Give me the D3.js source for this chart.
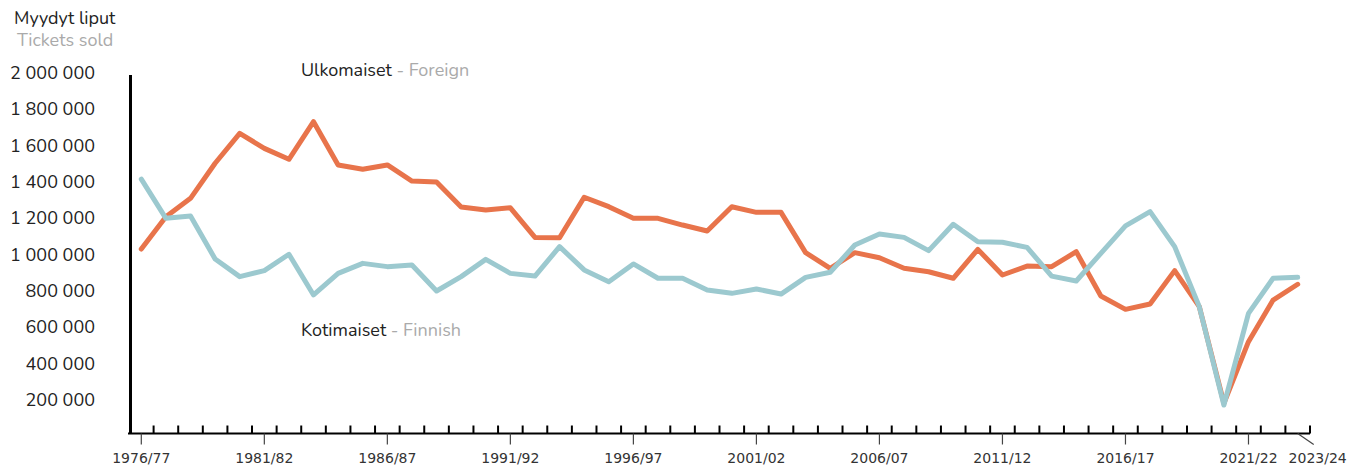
<!DOCTYPE html>
<html><head><meta charset="utf-8">
<script src="https://cdn.jsdelivr.net/npm/d3@7"></script>
<style>
html,body{margin:0;padding:0;background:#fff;}
svg{display:block;}
</style></head>
<body>
<svg id="chart" width="1365" height="466"></svg>
<script>
const seasons = ["1976/77","1977/78","1978/79","1979/80","1980/81","1981/82","1982/83","1983/84","1984/85","1985/86","1986/87","1987/88","1988/89","1989/90","1990/91","1991/92","1992/93","1993/94","1994/95","1995/96","1996/97","1997/98","1998/99","1999/00","2000/01","2001/02","2002/03","2003/04","2004/05","2005/06","2006/07","2007/08","2008/09","2009/10","2010/11","2011/12","2012/13","2013/14","2014/15","2015/16","2016/17","2017/18","2018/19","2019/20","2020/21","2021/22","2022/23","2023/24"];
const foreign = [1031000,1209000,1310000,1503000,1668000,1585000,1525000,1732000,1494000,1470000,1494000,1405000,1400000,1262000,1246000,1258000,1095000,1093000,1316000,1264000,1200000,1200000,1163000,1130000,1264000,1233000,1233000,1011000,925000,1011000,983000,925000,906000,870000,1029000,888000,937000,934000,1016000,772000,699000,728000,912000,714000,182000,521000,750000,837000];
const finnish = [1416000,1200000,1213000,976000,879000,912000,1002000,778000,897000,952000,934000,943000,800000,879000,974000,897000,882000,1044000,916000,851000,949000,870000,870000,805000,787000,811000,783000,875000,903000,1053000,1114000,1095000,1022000,1167000,1071000,1068000,1040000,882000,855000,1007000,1158000,1237000,1044000,714000,172000,677000,870000,875000];
const yTicks = [200000,400000,600000,800000,1000000,1200000,1400000,1600000,1800000,2000000];
const labeledSeasons = ["1976/77","1981/82","1986/87","1991/92","1996/97","2001/02","2006/07","2011/12","2016/17","2021/22"];
const lastSeason = "2023/24";

const svg = d3.select("#chart");
const FONT = "Nunito, Lato, 'Open Sans', sans-serif";
const orange = "#E8744B", blue = "#9CC9CF";

const x = d3.scaleBand().domain(seasons).range([129, 1310]);
const y = d3.scaleLinear().domain([0, 2000000]).range([436.3, 73]);
const cx = s => x(s) + x.bandwidth()/2;

// titles
svg.append("text").attr("x",14).attr("y",24).attr("font-family",FONT).attr("font-size",18).attr("fill","#222").text("Myydyt liput");
svg.append("text").attr("x",17).attr("y",46).attr("font-family",FONT).attr("font-size",18).attr("fill","#aaa").text("Tickets sold");

// y tick labels
const fmt = v => d3.format(",")(v).replace(/,/g," ");
svg.append("g").selectAll("text").data(yTicks).join("text")
  .attr("x",95).attr("y",d=>y(d)+6).attr("text-anchor","end")
  .attr("font-family",FONT).attr("font-size",18).attr("fill","#222")
  .text(fmt);

// y axis line
svg.append("line").attr("x1",130.5).attr("x2",130.5).attr("y1",75).attr("y2",434).attr("stroke","#000").attr("stroke-width",3);

// x axis
const axisY = 433.5;
svg.append("line").attr("x1",128).attr("x2",1310).attr("y1",axisY).attr("y2",axisY).attr("stroke","#000").attr("stroke-width",2);
const bounds = seasons.map(s=>x(s)).concat([x(seasons[seasons.length-1])+x.bandwidth()]).slice(1);
svg.append("g").selectAll("line").data(bounds).join("line")
  .attr("x1",d=>d).attr("x2",d=>d).attr("y1",axisY-8).attr("y2",axisY)
  .attr("stroke","#000").attr("stroke-width",2);
svg.append("g").selectAll("line").data(labeledSeasons).join("line")
  .attr("x1",d=>cx(d)).attr("x2",d=>cx(d)).attr("y1",axisY).attr("y2",axisY+11)
  .attr("stroke","#444").attr("stroke-width",1.2);
svg.append("g").selectAll("text").data(labeledSeasons).join("text")
  .attr("x",d=>cx(d)).attr("y",463).attr("text-anchor","middle")
  .attr("font-family","'DejaVu Sans', sans-serif").attr("font-size",14).attr("fill","#333")
  .text(d=>d);
svg.append("line").attr("x1",cx(lastSeason)).attr("y1",axisY).attr("x2",cx(lastSeason)+16).attr("y2",axisY+11)
  .attr("stroke","#444").attr("stroke-width",1.2);
svg.append("text").attr("x",cx(lastSeason)+20).attr("y",463).attr("text-anchor","middle")
  .attr("font-family","'DejaVu Sans', sans-serif").attr("font-size",14).attr("fill","#333").text(lastSeason);

// lines
const line = d3.line().x((d,i)=>cx(seasons[i])).y(d=>y(d));
svg.append("path").datum(foreign).attr("d",line).attr("fill","none").attr("stroke",orange)
  .attr("stroke-width",5).attr("stroke-linejoin","round").attr("stroke-linecap","round");
svg.append("path").datum(finnish).attr("d",line).attr("fill","none").attr("stroke",blue)
  .attr("stroke-width",5).attr("stroke-linejoin","round").attr("stroke-linecap","round");

// series labels
const l1 = svg.append("text").attr("x",301).attr("y",76).attr("font-family",FONT).attr("font-size",18);
l1.append("tspan").attr("fill","#222").text("Ulkomaiset");
l1.append("tspan").attr("fill","#aaa").text(" - Foreign");
const l2 = svg.append("text").attr("x",301).attr("y",336).attr("font-family",FONT).attr("font-size",18);
l2.append("tspan").attr("fill","#222").text("Kotimaiset");
l2.append("tspan").attr("fill","#aaa").text(" - Finnish");
</script>
</body></html>
